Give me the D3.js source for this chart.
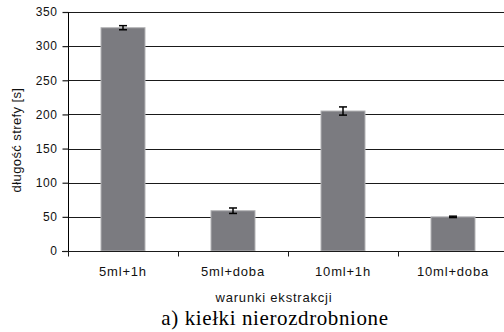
<!DOCTYPE html>
<html>
<head>
<meta charset="utf-8">
<script src="https://cdn.jsdelivr.net/npm/d3@7"></script>
<style>
  body { margin: 0; background: #fff; }
  svg { display: block; }
</style>
</head>
<body>
<script>
// data
const categories = ["5ml+1h", "5ml+doba", "10ml+1h", "10ml+doba"];
const values = [327, 59, 205, 50];
const errors = [3, 4, 6, 1];
const yTicks = [0, 50, 100, 150, 200, 250, 300, 350];

const width = 504, height = 332;
const margin = { top: 12, right: -4, bottom: 81, left: 68 };

const svg = d3.select("body").append("svg")
    .attr("width", width)
    .attr("height", height);

const x = d3.scaleBand()
    .domain(categories)
    .range([margin.left, width - margin.right])
    .paddingInner(0.6)
    .paddingOuter(0.3);

const xb = d3.scaleBand()
    .domain(categories)
    .range([margin.left, width - margin.right]);

const y = d3.scaleLinear()
    .domain([0, 350])
    .range([height - margin.bottom, margin.top]);

const font = "Arial, 'Liberation Sans', sans-serif";

// gridlines
svg.append("g")
    .selectAll("line")
    .data(yTicks.filter(d => d > 0))
    .enter().append("line")
    .attr("x1", margin.left)
    .attr("x2", width)
    .attr("y1", d => Math.round(y(d)) + 0.5)
    .attr("y2", d => Math.round(y(d)) + 0.5)
    .attr("stroke", "#1a1a1a")
    .attr("stroke-width", 1.2);

// bars
svg.append("g")
    .selectAll("rect")
    .data(values)
    .enter().append("rect")
    .attr("x", (d, i) => x(categories[i]))
    .attr("y", d => y(d))
    .attr("width", x.bandwidth())
    .attr("height", d => y(0) - y(d))
    .attr("fill", "#7b7b80")
    .attr("stroke", "#b4b4b6")
    .attr("stroke-width", 1);

// error bars
const eb = svg.append("g").attr("stroke", "#000").attr("stroke-width", 1.5);
values.forEach((v, i) => {
    const cx = x(categories[i]) + x.bandwidth() / 2;
    eb.append("line").attr("x1", cx).attr("x2", cx)
        .attr("y1", y(v + errors[i])).attr("y2", y(v - errors[i]));
    [v + errors[i], v - errors[i]].forEach(e => {
        eb.append("line").attr("x1", cx - 4).attr("x2", cx + 4)
            .attr("y1", y(e)).attr("y2", y(e));
    });
});

// y axis
const yAxis = svg.append("g")
    .attr("transform", "translate(" + (margin.left + 0.5) + ",0)")
    .call(d3.axisLeft(y).tickValues(yTicks).tickSize(6).tickPadding(5));
yAxis.select(".domain").attr("d", "M0," + (margin.top) + "V" + (y(0) + 5));
yAxis.selectAll("line").attr("stroke", "#1a1a1a").attr("stroke-width", 1.2);
yAxis.selectAll("text")
    .attr("font-family", font)
    .attr("font-size", "12px")
    .attr("letter-spacing", "0.6px")
    .attr("fill", "#111");

// x axis
const xAxis = svg.append("g")
    .attr("transform", "translate(0," + (Math.round(y(0)) + 0.5) + ")");
xAxis.append("line")
    .attr("x1", 62).attr("x2", width)
    .attr("stroke", "#1a1a1a")
    .attr("stroke-width", 1.2);
xAxis.selectAll("line.tk")
    .data(categories)
    .enter().append("line")
    .attr("class", "tk")
    .attr("x1", d => Math.round(xb(d)) + 0.5)
    .attr("x2", d => Math.round(xb(d)) + 0.5)
    .attr("y1", 0).attr("y2", 5)
    .attr("stroke", "#1a1a1a");
xAxis.selectAll("text")
    .data(categories)
    .enter().append("text")
    .attr("x", d => xb(d) + xb.bandwidth() / 2)
    .attr("y", 24)
    .attr("text-anchor", "middle")
    .attr("font-family", font)
    .attr("font-size", "13px")
    .attr("letter-spacing", "0.8px")
    .attr("fill", "#111")
    .text(d => d);

// axis titles
svg.append("text")
    .attr("transform", "translate(21,140)rotate(-90)")
    .attr("text-anchor", "middle")
    .attr("font-family", font)
    .attr("font-size", "13px")
    .attr("letter-spacing", "0.4px")
    .attr("fill", "#111")
    .text("długość strefy [s]");

svg.append("text")
    .attr("x", 274)
    .attr("y", 302)
    .attr("text-anchor", "middle")
    .attr("font-family", font)
    .attr("font-size", "13px")
    .attr("letter-spacing", "0.8px")
    .attr("fill", "#111")
    .text("warunki ekstrakcji");

// caption
svg.append("text")
    .attr("x", 275)
    .attr("y", 325)
    .attr("text-anchor", "middle")
    .attr("font-family", "'Liberation Serif', 'Times New Roman', serif")
    .attr("font-size", "21px")
    .attr("letter-spacing", "0.6px")
    .attr("fill", "#000")
    .text("a) kiełki nierozdrobnione");
</script>
</body>
</html>
